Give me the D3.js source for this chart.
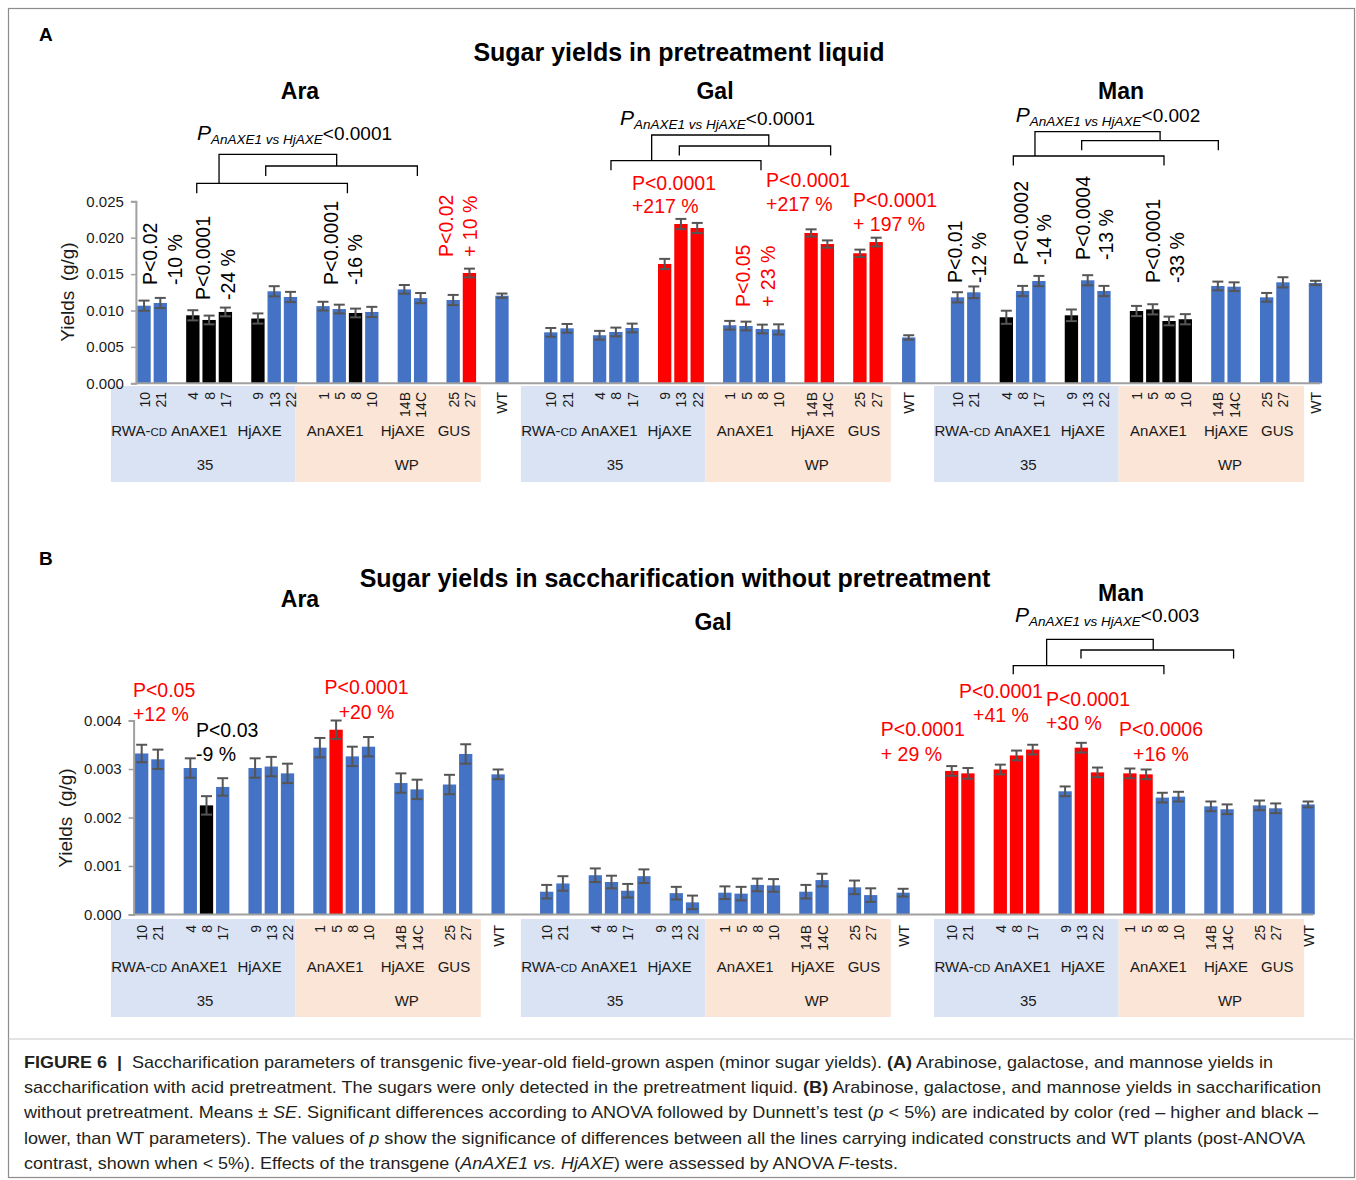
<!DOCTYPE html>
<html>
<head>
<meta charset="utf-8">
<script src="https://cdn.jsdelivr.net/npm/d3@7/dist/d3.min.js"></script>
<style>
  body { margin: 0; background: #fff; }
  svg { display: block; }
  text { font-family: "Liberation Sans", Arial, Helvetica, sans-serif; }
</style>
</head>
<body>
<svg id="fig" width="1356" height="1180"></svg>
<script>
// ---------- data ----------
// one sugar block = 23 slots (lines, with empty slots between construct groups)
const lineLabels = ["10","21","","4","8","17","","9","13","22","","1","5","8","10","","14B","14C","","25","27","","WT"];
const sugars = ["Ara","Gal","Man"];
const groupNames = ["RWA-CD","AnAXE1","HjAXE","AnAXE1","HjAXE","GUS"];
const promoterNames = ["35","WP"];

// A: pretreatment liquid (g/g)
const aAra = [0.01066,0.01103,null,0.00934,0.0087,0.0098,null,0.0089,0.01264,0.01186,null,0.0106,0.0102,0.00966,0.0098,null,0.0129,0.0117,null,0.01144,0.01515,null,0.01203];
const aAraSE = [0.0007,0.0007,null,0.0007,0.0006,0.0006,null,0.0007,0.0007,0.0007,null,0.0006,0.0006,0.0006,0.0007,null,0.0006,0.0007,null,0.0007,0.0006,null,0.0003];
const aAraSig = ["b","b","","k","k","k","","k","b","b","","b","b","k","b","","b","b","","b","r","","b"];

const aGal = [0.0070,0.00755,null,0.0066,0.00705,0.0076,null,0.01639,0.02188,0.02133,null,0.00797,0.00787,0.00746,0.0074,null,0.02065,0.01913,null,0.01786,0.0194,null,0.0063];
const aGalSE = [0.0006,0.0006,null,0.0006,0.0006,0.0006,null,0.0007,0.0007,0.0007,null,0.0006,0.0006,0.0006,0.0007,null,0.0005,0.0005,null,0.0005,0.0006,null,0.0003];
const aGalSig = ["b","b","","b","b","b","","r","r","r","","b","b","b","b","","r","r","","r","r","","b"];

const aMan = [0.01181,0.0125,null,0.00907,0.01268,0.01405,null,0.00934,0.01415,0.01268,null,0.00993,0.01016,0.00856,0.0088,null,0.01337,0.01327,null,0.01181,0.01387,null,0.01378];
const aManSE = [0.0007,0.0008,null,0.0009,0.0007,0.0007,null,0.0008,0.0007,0.0007,null,0.0007,0.0007,0.0006,0.0007,null,0.0006,0.0006,null,0.0006,0.0007,null,0.0003];
const aManSig = ["b","b","","k","b","b","","k","b","b","","k","k","k","k","","b","b","","b","b","","b"];

// B: saccharification without pretreatment (g/g)
const bAra = [0.00332,0.0032,null,0.00302,0.00225,0.00263,null,0.00302,0.00305,0.00291,null,0.00344,0.00381,0.00326,0.00346,null,0.00271,0.00258,null,0.00268,0.00331,null,0.00289];
const bAraSE = [0.00018,0.0002,null,0.0002,0.00019,0.00018,null,0.0002,0.0002,0.0002,null,0.0002,0.00019,0.0002,0.0002,null,0.0002,0.0002,null,0.0002,0.0002,null,0.0001];
const bAraSig = ["b","b","","b","k","b","","b","b","b","","b","r","b","b","","b","b","","b","b","","b"];

const bGal = [0.00047,0.00064,null,0.00081,0.00067,0.00049,0.00079,null,0.00044,0.00025,null,0.00045,0.00043,0.00061,0.0006,null,0.00047,0.00071,null,0.00056,0.0004,null,0.00045];
const bGalSE = [0.00014,0.00015,null,0.00014,0.00013,0.00014,0.00014,null,0.00013,0.00014,null,0.00013,0.00014,0.00013,0.00013,null,0.00014,0.00013,null,0.00014,0.00014,null,0.00008];
const bGalSig = ["b","b","","b","b","b","b","","b","b","","b","b","b","b","","b","b","","b","b","","b"];

const bMan = [0.00296,0.00291,null,0.00299,0.00328,0.0034,null,0.00254,0.00344,0.00293,null,0.00291,0.00289,0.00241,0.00243,null,0.00223,0.00217,null,0.00225,0.00219,null,0.00227];
const bManSE = [0.0001,0.00011,null,0.0001,0.0001,0.0001,null,0.0001,0.0001,0.0001,null,0.0001,0.0001,0.0001,0.0001,null,0.0001,0.0001,null,0.0001,0.0001,null,0.00006];
const bManSig = ["r","r","","r","r","r","","b","r","r","","r","r","b","b","","b","b","","b","b","","b"];

const ticksA = [0, 0.005, 0.010, 0.015, 0.020, 0.025];
const ticksB = [0, 0.001, 0.002, 0.003, 0.004];

// ---------- styling / layout ----------
const COLORS = { b: "#4472c4", r: "#ff0000", k: "#000000" };
const TEXT_RED = "#ff0000";
const AXIS_GREY = "#a0a0a0";
const ERR_GREY = "#555555";
const BAND_FILL = ["#dae3f3", "#fbe5d6"];
const SLOTS_PER_SUGAR = 25;   // 23 slots + 2 spacer slots
const NSLOTS = 73;

const svg = d3.select("#fig");

// frame
svg.append("rect").attr("x", 8.5).attr("y", 8.5).attr("width", 1346).attr("height", 1169)
  .attr("fill", "none").attr("stroke", "#8c8c8c").attr("stroke-width", 1.2);

// shared geometry of the category table (same in both panels)
const tableX = d3.scaleBand().domain(d3.range(NSLOTS)).range([135.9, 1323.6]);
const tableC = d3.scaleLinear().domain([0, NSLOTS - 1])
  .range([tableX(0) + tableX.bandwidth() / 2, tableX(NSLOTS - 1) + tableX.bandwidth() / 2]);
const tableShift = [0, 0.2, 0.6];
const bandEdges = [-2.04, 9.3, 20.7];
const groupPos = [-0.3, 3.4, 7.1, 11.75, 15.9, 19.05];
const promoterPos = [3.75, 16.15];

function drawPanel(cfg) {
  const g = svg.append("g");
  const x = d3.scaleBand().domain(d3.range(NSLOTS)).range(cfg.xRange);
  const xc = d3.scaleLinear().domain([0, NSLOTS - 1])
    .range([x(0) + x.bandwidth() / 2, x(NSLOTS - 1) + x.bandwidth() / 2]);
  const y = d3.scaleLinear().domain([0, cfg.yMax]).range([cfg.y0, cfg.yTop]);
  const barW = x.step() * 0.82;

  // category table bands
  sugars.forEach((s, si) => {
    const off = si * SLOTS_PER_SUGAR + tableShift[si];
    [0, 1].forEach(k => {
      g.append("rect")
        .attr("x", tableC(off + bandEdges[k]))
        .attr("y", cfg.bandTop)
        .attr("width", tableC(off + bandEdges[k + 1]) - tableC(off + bandEdges[k]))
        .attr("height", cfg.bandBottom - cfg.bandTop)
        .attr("fill", BAND_FILL[k]);
    });
    groupNames.forEach((name, k) => {
      const t = g.append("text")
        .attr("x", tableC(off + groupPos[k])).attr("y", cfg.groupY)
        .attr("text-anchor", "middle").attr("font-size", 15).attr("fill", "#1a1a1a");
      if (name === "RWA-CD") {
        t.append("tspan").text("RWA-");
        t.append("tspan").attr("font-size", 11.5).text("CD");
      } else t.text(name);
    });
    promoterNames.forEach((name, k) => {
      g.append("text").attr("x", tableC(off + promoterPos[k])).attr("y", cfg.promoterY)
        .attr("text-anchor", "middle").attr("font-size", 15).attr("fill", "#1a1a1a").text(name);
    });
  });

  // y axis
  const yAxis = d3.axisLeft(y).tickValues(cfg.ticks).tickFormat(d3.format(".3f")).tickSize(5).tickPadding(7);
  const ya = g.append("g").attr("transform", `translate(${cfg.xRange[0]},0)`).call(yAxis);
  ya.select(".domain").attr("stroke", AXIS_GREY).attr("stroke-width", 2);
  ya.selectAll(".tick line").attr("stroke", AXIS_GREY).attr("stroke-width", 1.5);
  ya.selectAll(".tick text").attr("font-size", 15).attr("fill", "#1a1a1a")
    .attr("font-family", "Liberation Sans, Arial, sans-serif");

  // y-axis title
  g.append("text")
    .attr("transform", `translate(${cfg.yTitleX},${cfg.yTitleY}) rotate(-90)`)
    .attr("text-anchor", "middle").attr("font-size", 19).attr("fill", "#1a1a1a")
    .attr("word-spacing", 4).text("Yields (g/g)");

  // bars + error bars
  cfg.series.forEach((ser, si) => {
    ser.values.forEach((v, j) => {
      if (v == null) return;
      const slot = si * SLOTS_PER_SUGAR + j;
      const cx = xc(slot);
      g.append("rect")
        .attr("x", cx - barW / 2).attr("y", y(v))
        .attr("width", barW).attr("height", y(0) - y(v))
        .attr("fill", COLORS[ser.sig[j]]);
      const se = ser.se[j];
      const eg = g.append("g").attr("stroke", ERR_GREY).attr("stroke-width", 2);
      eg.append("line").attr("x1", cx).attr("x2", cx).attr("y1", y(v - se)).attr("y2", y(v + se));
      [v - se, v + se].forEach(e => {
        eg.append("line").attr("x1", cx - 5.5).attr("x2", cx + 5.5).attr("y1", y(e)).attr("y2", y(e));
      });
    });
    // rotated line labels
    lineLabels.forEach((lab, j) => {
      if (!lab) return;
      const slot = si * SLOTS_PER_SUGAR + j;
      g.append("text")
        .attr("transform", `translate(${xc(slot) + 5.5},${cfg.lineLabelTop}) rotate(-90)`)
        .attr("text-anchor", "end").attr("font-size", 14).attr("fill", "#1a1a1a").text(lab);
    });
  });

  // x axis line
  g.append("line").attr("x1", cfg.xRange[0]).attr("x2", cfg.xRange[1] - 3)
    .attr("y1", y(0)).attr("y2", y(0)).attr("stroke", AXIS_GREY).attr("stroke-width", 2);

  // significance notes
  cfg.notes.forEach(n => {
    const fill = n.red ? TEXT_RED : "#000";
    n.lines.forEach((line, k) => {
      if (n.rotated) {
        g.append("text")
          .attr("transform", `translate(${xc(n.at) + k * n.gap},${y(n.v)}) rotate(-90)`)
          .attr("text-anchor", "start").attr("font-size", 19.5).attr("fill", fill).text(line);
      } else {
        g.append("text")
          .attr("x", xc(n.at)).attr("y", y(n.v) + k * n.gap)
          .attr("text-anchor", n.anchor || "start").attr("font-size", 19.5).attr("fill", fill).text(line);
      }
    });
  });

  // AnAXE1 vs HjAXE contrast brackets
  cfg.brackets.forEach(b => {
    const bg = g.append("g").attr("stroke", "#000").attr("stroke-width", 1.3).attr("fill", "none");
    const path = (pts) => bg.append("path").attr("d", d3.line()(pts));
    path([[xc(b.low[0]), b.lowY + b.leg], [xc(b.low[0]), b.lowY], [xc(b.low[1]), b.lowY], [xc(b.low[1]), b.lowY + b.leg]]);
    path([[xc(b.up[0]), b.upY + b.leg], [xc(b.up[0]), b.upY], [xc(b.up[1]), b.upY], [xc(b.up[1]), b.upY + b.leg]]);
    path([[xc(b.top[0]), b.lowY], [xc(b.top[0]), b.topY], [xc(b.top[1]), b.topY], [xc(b.top[1]), b.upY]]);
    const t = g.append("text").attr("x", xc(b.labelAt)).attr("y", b.labelY)
      .attr("text-anchor", "middle").attr("fill", "#000");
    t.append("tspan").attr("font-style", "italic").attr("font-size", 21).text("P");
    t.append("tspan").attr("font-style", "italic").attr("font-size", 13.5).attr("dy", 4).text("AnAXE1 vs HjAXE");
    t.append("tspan").attr("font-size", 19).attr("dy", -4).text("<" + b.p);
  });

  // titles
  g.append("text").attr("x", cfg.title.x).attr("y", cfg.title.y).attr("text-anchor", "middle")
    .attr("font-weight", "bold").attr("font-size", 25).attr("fill", "#000").text(cfg.title.text);
  cfg.sugarTitles.forEach((st, k) => {
    g.append("text").attr("x", st[0]).attr("y", st[1]).attr("text-anchor", "middle")
      .attr("font-weight", "bold").attr("font-size", 23).attr("fill", "#000").text(sugars[k]);
  });
  g.append("text").attr("x", 39).attr("y", cfg.letterY).attr("font-weight", "bold")
    .attr("font-size", 19).attr("fill", "#000").text(cfg.letter);
}

drawPanel({
  letter: "A", letterY: 41,
  title: { text: "Sugar yields in pretreatment liquid", x: 679, y: 61 },
  sugarTitles: [[300, 99], [715, 99], [1121, 99]],
  xRange: [135.9, 1323.6], y0: 383.3, yTop: 201.3, yMax: 0.025, ticks: ticksA,
  yTitleX: 73.5, yTitleY: 292,
  bandTop: 386, bandBottom: 482, lineLabelTop: 392, groupY: 436, promoterY: 470,
  series: [
    { values: aAra, se: aAraSE, sig: aAraSig },
    { values: aGal, se: aGalSE, sig: aGalSig },
    { values: aMan, se: aManSE, sig: aManSig }
  ],
  notes: [
    { lines: ["P<0.02", "-10 %"], rotated: true, at: 0.80, v: 0.0135, gap: 24.5 },
    { lines: ["P<0.0001", "-24 %"], rotated: true, at: 4.06, v: 0.01144, gap: 24.5 },
    { lines: ["P<0.0001", "-16 %"], rotated: true, at: 11.92, v: 0.0135, gap: 24.5 },
    { lines: ["P<0.02", "+ 10 %"], rotated: true, red: true, at: 18.99, v: 0.01735, gap: 24.5 },
    { lines: ["P<0.05", "+ 23 %"], rotated: true, red: true, at: 37.25, v: 0.01048, gap: 24.5 },
    { lines: ["P<0.0001", "+217 %"], red: true, at: 29.99, v: 0.02662, gap: 23.5 },
    { lines: ["P<0.0001", "+217 %"], red: true, at: 38.23, v: 0.0269, gap: 23.5 },
    { lines: ["P<0.0001", "+ 197 %"], red: true, at: 43.58, v: 0.02415, gap: 23.5 },
    { lines: ["P<0.01", "-12 %"], rotated: true, at: 50.28, v: 0.01378, gap: 23.5 },
    { lines: ["P<0.0002", "-14 %"], rotated: true, at: 54.33, v: 0.01625, gap: 23.5 },
    { lines: ["P<0.0004", "-13 %"], rotated: true, at: 58.14, v: 0.01694, gap: 23.5 },
    { lines: ["P<0.0001", "-33 %"], rotated: true, at: 62.45, v: 0.01378, gap: 23.5 }
  ],
  brackets: [
    { low: [3.24, 12.5], lowY: 183.3, up: [7.48, 16.8], upY: 166, top: [4.61, 11.84], topY: 154.3, leg: 10,
      labelAt: 9.25, labelY: 140, p: "0.0001" },
    { low: [28.7, 37.92], lowY: 160.7, up: [32.9, 42.2], upY: 146, top: [31.2, 38.4], topY: 135, leg: 9.5,
      labelAt: 35.25, labelY: 125, p: "0.0001" },
    { low: [53.43, 62.69], lowY: 156, up: [57.63, 66.03], upY: 140.7, top: [54.76, 62.45], topY: 131.7, leg: 9.5,
      labelAt: 59.25, labelY: 121.7, p: "0.002" }
  ]
});

drawPanel({
  letter: "B", letterY: 565,
  title: { text: "Sugar yields in saccharification without pretreatment", x: 675, y: 587 },
  sugarTitles: [[300, 607], [713, 630], [1121, 601]],
  xRange: [133.6, 1316.2], y0: 914.5, yTop: 720.5, yMax: 0.004, ticks: ticksB,
  yTitleX: 71.5, yTitleY: 818,
  bandTop: 919, bandBottom: 1017, lineLabelTop: 925, groupY: 972, promoterY: 1005.5,
  series: [
    { values: bAra, se: bAraSE, sig: bAraSig },
    { values: bGal, se: bGalSE, sig: bGalSig },
    { values: bMan, se: bManSE, sig: bManSig }
  ],
  notes: [
    { lines: ["P<0.05", "+12 %"], red: true, at: -0.54, v: 0.004485, gap: 24 },
    { lines: ["P<0.03", "-9 %"], at: 3.35, v: 0.00366, gap: 24 },
    { lines: ["P<0.0001", "+20 %"], red: true, anchor: "middle", at: 13.88, v: 0.00455, gap: 25 },
    { lines: ["P<0.0001", "+ 29 %"], red: true, at: 45.62, v: 0.00368, gap: 25 },
    { lines: ["P<0.0001", "+41 %"], red: true, anchor: "middle", at: 53.04, v: 0.00447, gap: 24 },
    { lines: ["P<0.0001", "+30 %"], red: true, at: 55.82, v: 0.0043, gap: 24 },
    { lines: ["P<0.0006", "+16 %"], red: true, anchor: "middle", at: 62.92, v: 0.00368, gap: 25 }
  ],
  brackets: [
    { low: [53.8, 63.1], lowY: 665.7, up: [57.98, 67.4], upY: 650, top: [55.86, 62.44], topY: 639.3, leg: 8.5,
      labelAt: 59.6, labelY: 621.7, p: "0.003" }
  ]
});

// separator above the caption
svg.append("line").attr("x1", 8.5).attr("x2", 1354.5).attr("y1", 1039).attr("y2", 1039)
  .attr("stroke", "#c8c8c8").attr("stroke-width", 1);

// ---------- caption ----------
const captionLines = [
  { end: 1273, parts: [["FIGURE 6", "b"], ["  |  ", "b"], ["Saccharification parameters of transgenic five-year-old field-grown aspen (minor sugar yields). ", ""], ["(A)", "b"], [" Arabinose, galactose, and mannose yields in", ""]] },
  { end: 1321, parts: [["saccharification with acid pretreatment. The sugars were only detected in the pretreatment liquid. ", ""], ["(B)", "b"], [" Arabinose, galactose, and mannose yields in saccharification", ""]] },
  { end: 1318, parts: [["without pretreatment. Means ± ", ""], ["SE", "i"], [". Significant differences according to ANOVA followed by Dunnett’s test (", ""], ["p", "i"], [" < 5%) are indicated by color (red – higher and black –", ""]] },
  { end: 1305, parts: [["lower, than WT parameters). The values of ", ""], ["p", "i"], [" show the significance of differences between all the lines carrying indicated constructs and WT plants (post-ANOVA", ""]] },
  { end: 898, parts: [["contrast, shown when < 5%). Effects of the transgene (", ""], ["AnAXE1 vs. HjAXE", "i"], [") were assessed by ANOVA ", ""], ["F", "i"], ["-tests.", ""]] }
];
captionLines.forEach((ln, k) => {
  const t = svg.append("text").attr("x", 24).attr("y", 1068 + k * 25.2)
    .attr("font-size", 17).attr("fill", "#231f20")
    .attr("textLength", ln.end - 24).attr("lengthAdjust", "spacingAndGlyphs")
    .attr("xml:space", "preserve").style("white-space", "pre");
  ln.parts.forEach(([s, f]) => {
    const ts = t.append("tspan").text(s);
    if (f === "b") ts.attr("font-weight", "bold");
    if (f === "i") ts.attr("font-style", "italic");
  });
});
</script>
</body>
</html>
